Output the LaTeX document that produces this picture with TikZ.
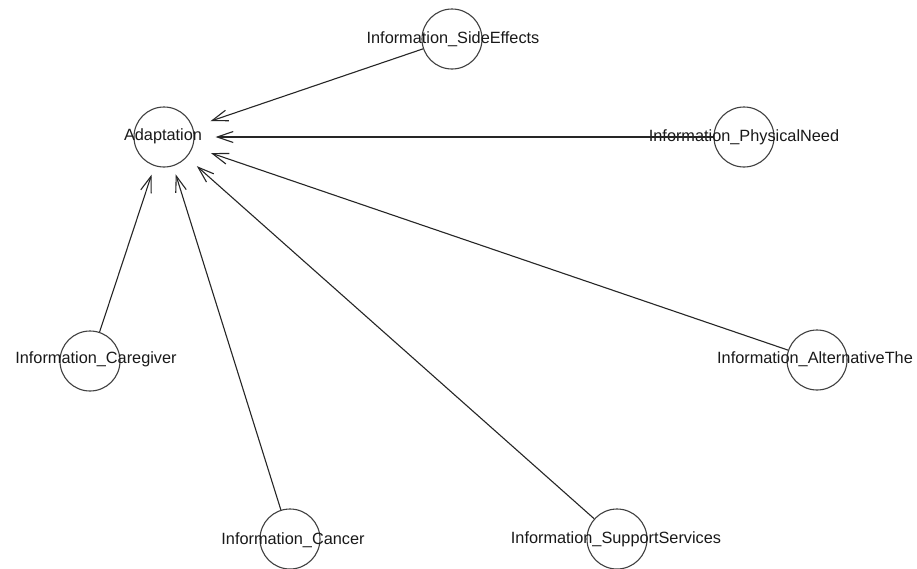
\documentclass[tikz,border=0pt]{standalone}
\usepackage{fontspec}
\setmainfont{Liberation Sans}
\usetikzlibrary{arrows.meta}
\begin{document}
\begin{tikzpicture}[x=1pt,y=-1pt,
  vtx/.style={circle,draw=black!75,line width=1.1pt,minimum size=60pt,inner sep=0pt},
  lbl/.style={font=\fontsize{16.3}{18}\selectfont,text=black!90,inner sep=0pt,text height=0.72em,text depth=0pt},
  edge/.style={draw=black!85,line width=1.1pt,-{Straight Barb[length=16pt,width=11pt]}}]
\clip (0,0) rectangle (917,568);
\fill[white] (0,0) rectangle (917,568);
% vertices
\node[vtx] (ad) at (164,137) {};
\node[vtx] (se) at (452,39) {};
\node[vtx] (pn) at (744,137) {};
\node[vtx] (cg) at (90,361) {};
\node[vtx] (at) at (817,360) {};
\node[vtx] (ca) at (290,539) {};
\node[vtx] (ss) at (617,539) {};
% labels
\node[lbl] (lad) at (163,137) {Adaptation};
\node[lbl] (lse) at (453,40) {Information\_SideEffects};
\node[lbl] (lpn) at (744,138) {Information\_PhysicalNeed};
\node[lbl] (lcg) at (96,360) {Information\_Caregiver};
\node[lbl] (lat) at (815,360) {Information\_AlternativeThe};
\node[lbl] (lca) at (293,541) {Information\_Cancer};
\node[lbl] (lss) at (616,540) {Information\_SupportServices};
% edges
\draw[edge,shorten >=18.5pt] (se) -- (ad);
\draw[edge,shorten >=21pt] (pn) -- (ad);
\draw[edge,shorten >=19pt] (at) -- (ad);
\draw[edge,shorten >=13.4pt] (ss) -- (ad);
\draw[edge,shorten >=8.6pt] (ca) -- (ad);
\draw[edge,shorten >=9.2pt] (cg) -- (ad);
\end{tikzpicture}
\end{document}
